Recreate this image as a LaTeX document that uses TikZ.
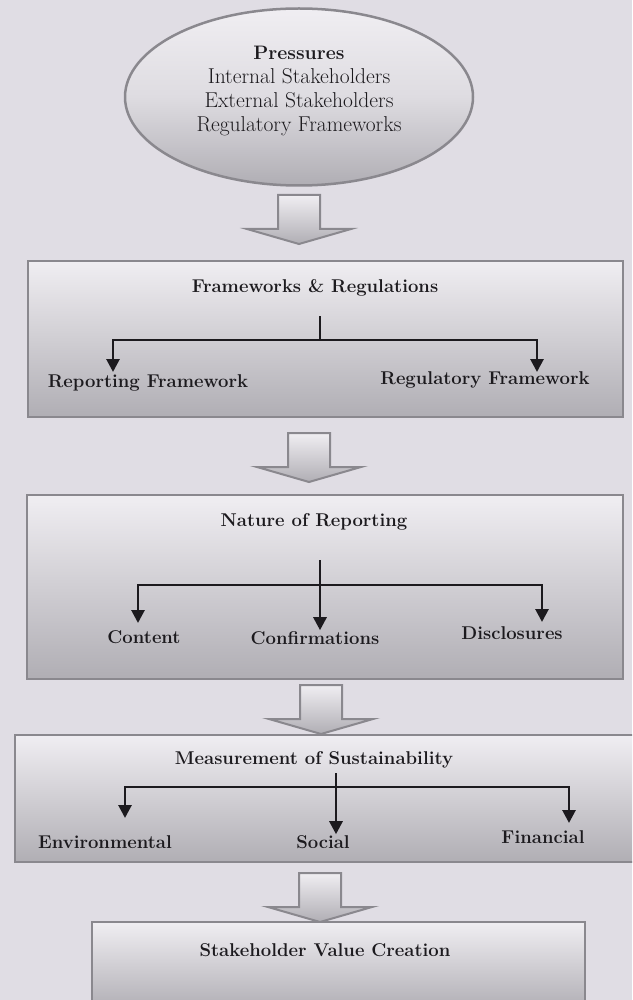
\documentclass[tikz,border=0pt]{standalone}
\usetikzlibrary{shapes.geometric,arrows.meta}
\definecolor{paper}{RGB}{224,221,228}
\definecolor{boxtop}{RGB}{240,238,242}
\definecolor{boxmid}{RGB}{222,220,225}
\definecolor{boxbot}{RGB}{176,174,180}
\definecolor{edge}{RGB}{138,136,142}
\definecolor{ink}{RGB}{28,26,30}

\tikzset{
  box/.style={draw=edge, line width=2.5pt, top color=boxtop, bottom color=boxbot, inner sep=0pt},
  lbl/.style={text=ink, font=\fontsize{18.5}{21}\selectfont\bfseries, inner sep=1pt},
  conn/.style={draw=ink, line width=2.8pt},
  arr/.style={conn, -{Triangle[length=13pt,width=13pt]}},
  pics/blockarrow/.style={code={
    \path[top color=boxtop, bottom color=boxbot, draw=edge, line width=2pt]
      (-21,0) -- (21,0) -- (21,34) -- (52,34) -- (0,49) -- (-52,34) -- (-21,34) -- cycle;
  }},
}

\begin{document}
\begin{tikzpicture}[x=1pt, y=-1pt]
  % page
  \clip (0,0) rectangle (632,1000);
  \fill[paper] (0,0) rectangle (632,1000);

  % pressures
  \node[ellipse, draw=edge, line width=2.5pt, top color=boxtop, bottom color=boxbot,
        middle color=boxmid, minimum width=348pt, minimum height=177pt] (press) at (299,97) {};
  \node[text=ink, align=center, font=\fontsize{21.5}{24}\selectfont] (presstxt) at (299,91)
    {{\fontsize{19.5}{24}\selectfont\bfseries Pressures}\\Internal Stakeholders\\External Stakeholders\\Regulatory Frameworks};

  \pic at (299,195) {blockarrow};

  % frameworks and regulations
  \node[box, minimum width=595pt, minimum height=156pt] (fr) at (325.5,339) {};
  \node[lbl] (frt) at (315,288) {Frameworks \& Regulations};
  \node[lbl] (rep) at (148,383) {Reporting Framework};
  \node[lbl] (reg) at (485,380) {Regulatory Framework};
  \coordinate (fr-top) at (320,316);
  \coordinate (fr-j) at (320,340);
  \coordinate (fr-l) at (113,372);
  \coordinate (fr-r) at (537,372);
  \draw[conn] (fr-top) -- (fr-j);
  \draw[arr] (fr-j) -| (fr-l);
  \draw[arr] (fr-j) -| (fr-r);

  \pic at (309,433) {blockarrow};

  % nature of reporting
  \node[box, minimum width=596pt, minimum height=184pt] (nr) at (325,587) {};
  \node[lbl] (nrt) at (314,522) {Nature of Reporting};
  \node[lbl] (cont) at (144,637) {Content};
  \node[lbl] (conf) at (315,638) {Confirmations};
  \node[lbl] (disc) at (512,633) {Disclosures};
  \coordinate (nr-top) at (320,560);
  \coordinate (nr-j) at (320,585);
  \coordinate (nr-l) at (138,623);
  \coordinate (nr-r) at (542,622);
  \draw[arr] (nr-top) -- (nr-top |- conf.north);
  \draw[arr] (nr-j) -| (nr-l);
  \draw[arr] (nr-j) -| (nr-r);

  \pic at (321,685) {blockarrow};

  % measurement of sustainability
  \node[box, minimum width=630pt, minimum height=127pt] (ms) at (330,798.5) {};
  \node[lbl] (mst) at (314,760) {Measurement of Sustainability};
  \node[lbl] (env) at (105,842) {Environmental};
  \node[lbl] (soc) at (323,842) {Social};
  \node[lbl] (fin) at (543,837) {Financial};
  \coordinate (ms-top) at (336,773);
  \coordinate (ms-j) at (336,787);
  \coordinate (ms-l) at (125,818);
  \coordinate (ms-r) at (569,823);
  \draw[arr] (ms-top) -- (ms-top |- soc.north);
  \draw[arr] (ms-j) -| (ms-l);
  \draw[arr] (ms-j) -| (ms-r);

  \pic at (320,873) {blockarrow};

  % stakeholder value creation
  \node[box, minimum width=493pt, minimum height=88pt] (svc) at (338.5,966) {};
  \node[lbl] (svct) at (325,950) {Stakeholder Value Creation};
\end{tikzpicture}
\end{document}
